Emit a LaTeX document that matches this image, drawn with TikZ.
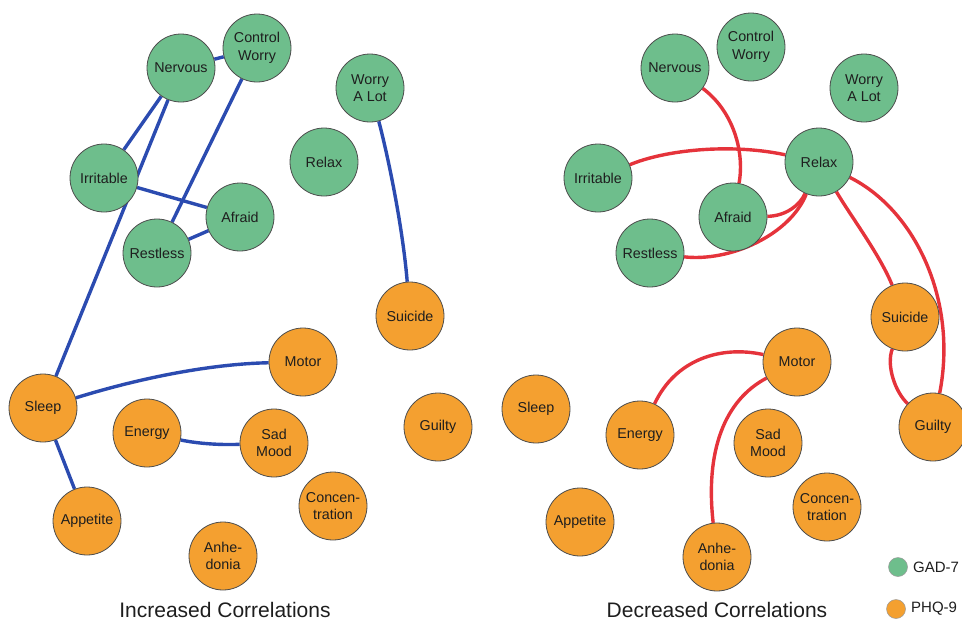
\documentclass[tikz,border=0pt]{standalone}
\usepackage{fontspec}
\setmainfont{Liberation Sans}
\usetikzlibrary{backgrounds}
\definecolor{gadgreen}{RGB}{110,190,140}
\definecolor{phqorange}{RGB}{244,160,48}
\definecolor{incblue}{RGB}{43,75,176}
\definecolor{decred}{RGB}{229,51,59}
\definecolor{txt}{RGB}{30,30,30}
\begin{document}
\begin{tikzpicture}[x=1pt,y=-1pt,
  sym/.style={circle, minimum size=68pt, inner sep=0pt, draw=black!70, line width=0.8pt,
    align=center, font=\fontsize{14.3}{17.5}\selectfont, text=txt},
  gad/.style={sym, fill=gadgreen},
  phq/.style={sym, fill=phqorange},
  inc/.style={draw=incblue, line width=3.4pt},
  dec/.style={draw=decred, line width=3.4pt},
  ttl/.style={font=\fontsize{21}{25}\selectfont, text=txt, anchor=base},
  leg/.style={circle, minimum size=19pt, inner sep=0pt, draw=black!40, line width=0.5pt},
  legtxt/.style={font=\fontsize{15}{17}\selectfont, text=txt, anchor=west, inner sep=0pt}]
\useasboundingbox (0,0) rectangle (962,622);

% ---------- Left panel: increased correlations ----------
\node[gad] (Lnerv) at (181,68) {Nervous};
\node[gad] (Lctrl) at (257,48) {Control\\Worry};
\node[gad] (Lworry) at (370,88) {Worry\\A Lot};
\node[gad] (Lrelax) at (324,162) {Relax};
\node[gad] (Lirr) at (104,178) {Irritable};
\node[gad] (Lafr) at (240,217) {Afraid};
\node[gad] (Lrest) at (157,253) {Restless};
\node[phq] (Lsui) at (410,316) {Suicide};
\node[phq] (Lsleep) at (43,408) {Sleep};
\node[phq] (Lmotor) at (303,362) {Motor};
\node[phq] (Lenergy) at (147,433) {Energy};
\node[phq] (Lsad) at (274,443) {Sad\\Mood};
\node[phq] (Lguilty) at (438,427) {Guilty};
\node[phq] (Lconc) at (333,506) {Concen-\\tration};
\node[phq] (Lapp) at (87,521) {Appetite};
\node[phq] (Lanh) at (223,556) {Anhe-\\donia};
\node[ttl] (Ltitle) at (225,617) {Increased Correlations};

\begin{scope}[on background layer]
\draw[inc] (Lnerv) -- (Lctrl);
\draw[inc] (Lnerv) -- (Lirr);
\draw[inc] (Lnerv) -- (Lsleep);
\draw[inc] (Lctrl) -- (Lrest);
\draw[inc] (Lirr) -- (Lafr);
\draw[inc] (Lrest) -- (Lafr);
\draw[inc] (Lworry) .. controls (389,160) and (403,230) .. (Lsui);
\draw[inc] (Lsleep) .. controls (140,378) and (210,364) .. (Lmotor);
\draw[inc] (Lsleep) -- (Lapp);
\draw[inc] (Lenergy) .. controls (200,444) and (222,445) .. (Lsad);
\end{scope}

% ---------- Right panel: decreased correlations ----------
\node[gad] (Rnerv) at (675,68) {Nervous};
\node[gad] (Rctrl) at (751,47) {Control\\Worry};
\node[gad] (Rworry) at (864,88) {Worry\\A Lot};
\node[gad] (Rrelax) at (819,162) {Relax};
\node[gad] (Rirr) at (598,178) {Irritable};
\node[gad] (Rafr) at (733,217) {Afraid};
\node[gad] (Rrest) at (650,253) {Restless};
\node[phq] (Rsui) at (905,317) {Suicide};
\node[phq] (Rsleep) at (536,409) {Sleep};
\node[phq] (Rmotor) at (797,362) {Motor};
\node[phq] (Renergy) at (640,435) {Energy};
\node[phq] (Rsad) at (768,443) {Sad\\Mood};
\node[phq] (Rguilty) at (933,427) {Guilty};
\node[phq] (Rconc) at (827,507) {Concen-\\tration};
\node[phq] (Rapp) at (580,522) {Appetite};
\node[phq] (Ranh) at (717,557) {Anhe-\\donia};
\node[ttl] (Rtitle) at (717,617) {Decreased Correlations};

\begin{scope}[on background layer]
\draw[dec] (Rnerv) .. controls (732,110) and (745,150) .. (Rafr);
\draw[dec] (Rirr) .. controls (665,150) and (730,143) .. (Rrelax);
\draw[dec] (Rafr) .. controls (786,216) and (800,205) .. (Rrelax);
\draw[dec] (Rrest) .. controls (730,262) and (790,235) .. (Rrelax);
\draw[dec] (Rrelax) .. controls (850,215) and (880,255) .. (Rsui);
\draw[dec] (Rrelax) .. controls (915,210) and (958,300) .. (Rguilty);
\draw[dec] (Rsui) .. controls (886,365) and (895,392) .. (Rguilty);
\draw[dec] (Rmotor) .. controls (720,345) and (675,360) .. (Renergy);
\draw[dec] (Rmotor) .. controls (725,400) and (705,450) .. (Ranh);
\end{scope}

% ---------- Legend ----------
\node[leg, fill=gadgreen] (legG) at (898,567) {};
\node[legtxt] (legGt) at (913,567) {GAD-7};
\node[leg, fill=phqorange] (legP) at (896,609) {};
\node[legtxt] (legPt) at (911,609) {PHQ-9};
\end{tikzpicture}
\end{document}
